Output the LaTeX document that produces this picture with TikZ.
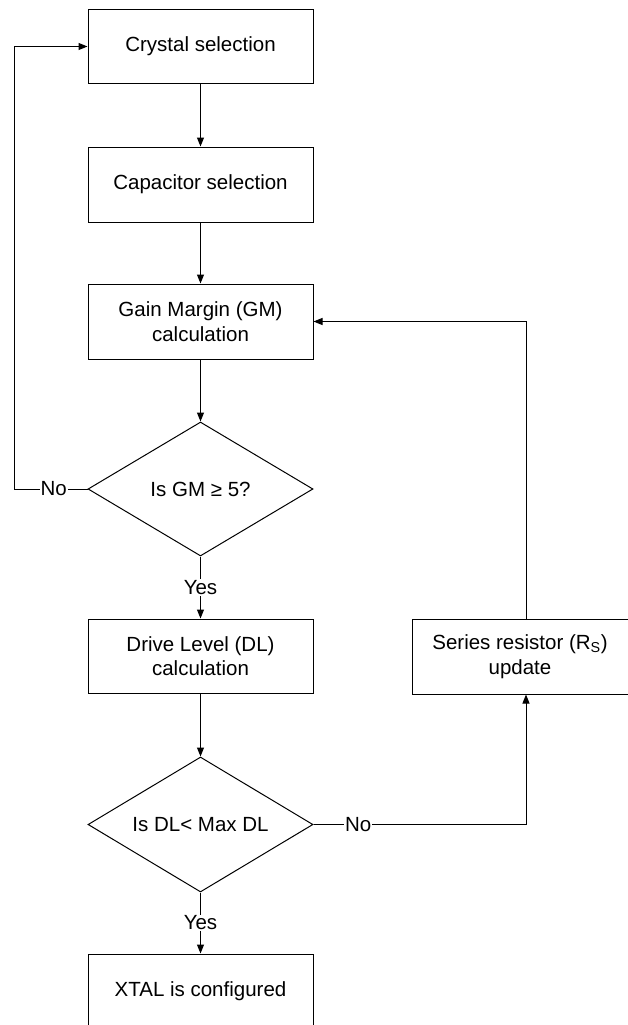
\documentclass[tikz,border=0pt]{standalone}
\usepackage{fontspec}
\setmainfont{Liberation Sans}
\usetikzlibrary{arrows.meta,shapes.geometric,calc}
\begin{document}
\begin{tikzpicture}[x=1pt,y=-1pt,
  every node/.style={font=\fontsize{20.5}{24.5}\selectfont},
  box/.style={draw,line width=1pt,rectangle,inner sep=0pt,align=center,minimum width=225pt,minimum height=74pt},
  dia/.style={draw,line width=1pt,diamond,inner sep=0pt,aspect=1.68,minimum width=225pt,minimum height=134pt},
  arr/.style={line width=1pt,-{Triangle[length=9pt,width=7pt]}},
  ln/.style={line width=1pt},
  lbl/.style={fill=white,inner sep=1pt}]
\useasboundingbox (0,0) rectangle (628,1025);
\clip (0,0) rectangle (628,1025);
\node[box,minimum height=73.5pt] (crys) at (200.5,46.5) {Crystal selection};
\node[box,minimum height=75pt] (cap) at (200.5,184.5) {Capacitor selection};
\node[box,minimum height=75pt] (gm) at (200.5,321.5) {Gain Margin (GM)\\calculation};
\node[dia] (d1) at (200.5,489) {Is GM ≥ 5?};
\node[box,minimum height=74pt] (dl) at (200.5,656) {Drive Level (DL)\\calculation};
\node[dia,minimum height=135pt] (d2) at (200.5,824.5) {Is DL< Max DL};
\node[box,minimum height=75pt] (xtal) at (200.5,991.5) {XTAL is configured};
\node[box,minimum width=216pt,minimum height=75pt] (ser) at (520,656.5) {Series resistor (R\textsubscript{S})\\update};
\coordinate (lx) at (14,0);
\coordinate (rx) at (526,0);
\draw[arr] (crys) -- (cap);
\draw[arr] (cap) -- (gm);
\draw[arr] (gm) -- (d1);
\draw[arr] (d1) -- node[lbl]{Yes} (dl);
\draw[arr] (dl) -- (d2);
\draw[arr] (d2) -- node[lbl]{Yes} (xtal);
\draw[arr] (d1.west) -- node[lbl,pos=0.46]{No} (lx |- d1.west) |- (crys.west);
\draw[arr] (d2.east) -- node[lbl,pos=0.21]{No} (rx |- d2.east) -- (rx |- ser.south);
\draw[arr] (rx |- ser.north) |- (gm.east);
\end{tikzpicture}
\end{document}
